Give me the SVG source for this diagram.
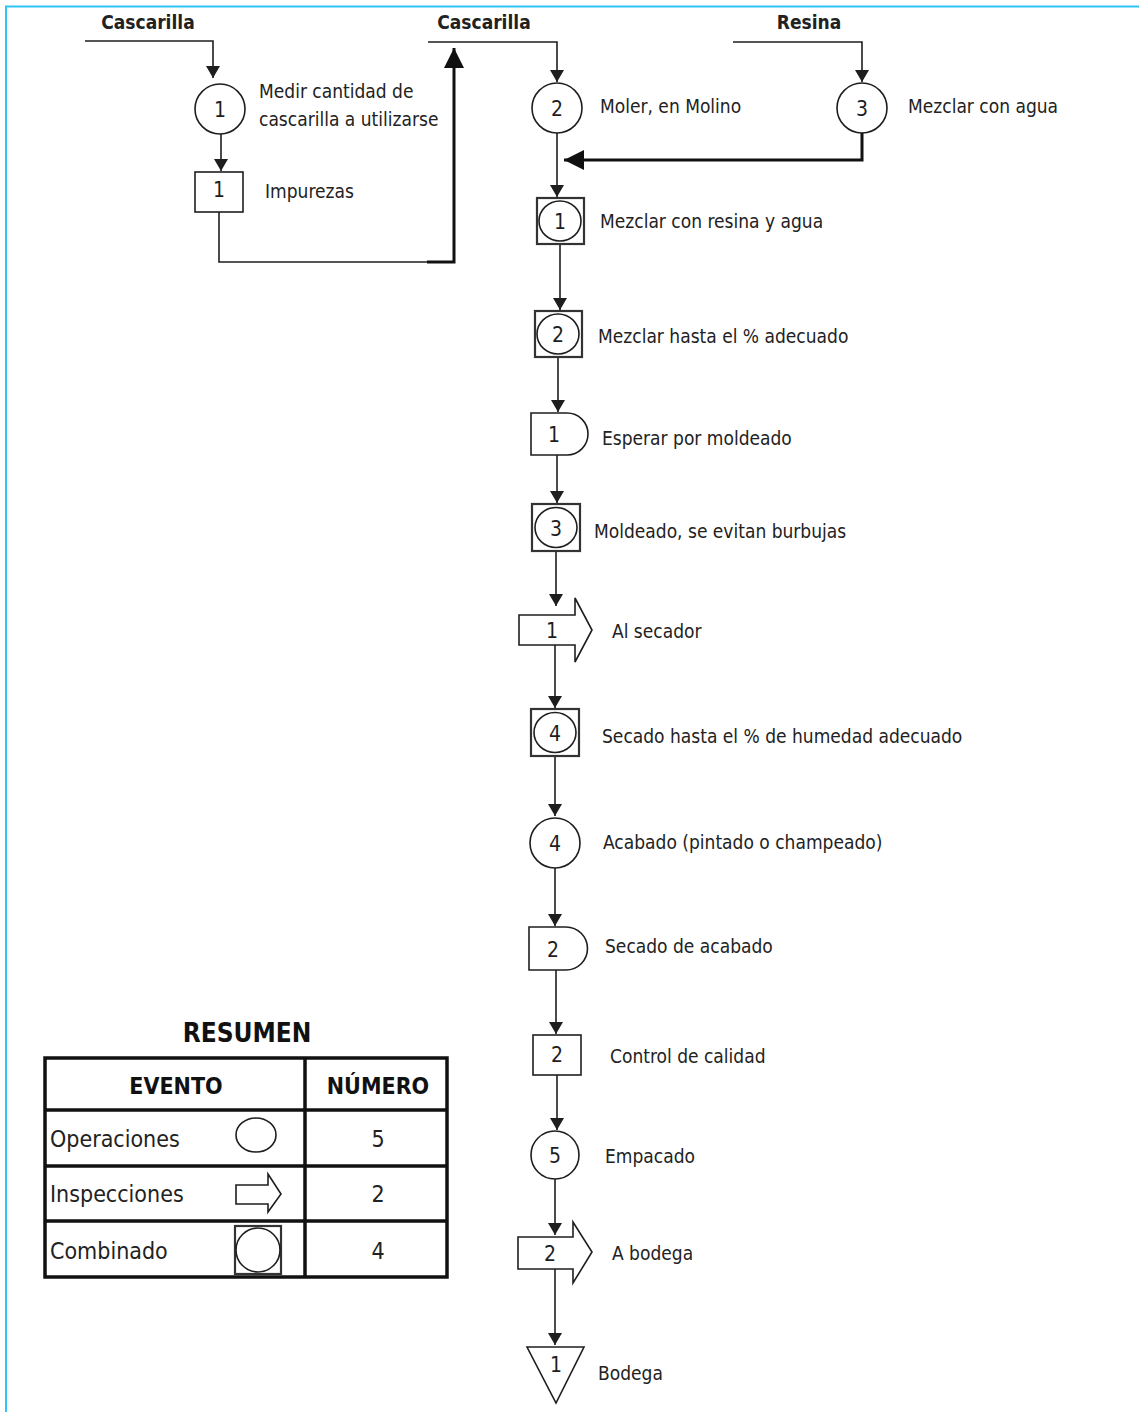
<svg xmlns="http://www.w3.org/2000/svg" width="1139" height="1412" viewBox="0 0 1139 1412">
<style>
  .bg{fill:#ffffff}
  .frame{stroke:#2ec4f4;stroke-width:2;fill:none}
  .ln{stroke:#1e1e1e;stroke-width:1.6;fill:none}
  .thk{stroke:#111;stroke-width:3;fill:none}
  .shp{stroke:#1e1e1e;stroke-width:1.6;fill:#fff}
  .cmb{stroke:#333;stroke-width:2.2;fill:#fff}
  .num{font-family:"DejaVu Sans Condensed","DejaVu Sans",sans-serif;font-stretch:condensed;font-size:21px;fill:#1e1e1e;text-anchor:middle}
  .lbl{font-family:"DejaVu Sans Condensed","DejaVu Sans",sans-serif;font-stretch:condensed;font-size:19px;fill:#222}
  .hd{font-family:"DejaVu Sans Condensed","DejaVu Sans",sans-serif;font-stretch:condensed;font-size:19px;font-weight:bold;fill:#222;text-anchor:middle}
  .tt{font-family:"DejaVu Sans Condensed","DejaVu Sans",sans-serif;font-stretch:condensed;font-size:26px;font-weight:bold;fill:#111;text-anchor:middle}
  .th{font-family:"DejaVu Sans Condensed","DejaVu Sans",sans-serif;font-stretch:condensed;font-size:23px;font-weight:bold;fill:#111;text-anchor:middle}
  .tr{font-family:"DejaVu Sans Condensed","DejaVu Sans",sans-serif;font-stretch:condensed;font-size:23px;fill:#222}
  .tn{font-family:"DejaVu Sans Condensed","DejaVu Sans",sans-serif;font-stretch:condensed;font-size:23px;fill:#222;text-anchor:middle}
  .tb{stroke:#111;stroke-width:3.5;fill:none}
</style>
<defs>
  <marker id="a" markerUnits="userSpaceOnUse" markerWidth="14" markerHeight="14" refX="12" refY="7" orient="auto">
    <path d="M0,0 L12,7 L0,14 Z" fill="#1e1e1e"/>
  </marker>
  <marker id="A" markerUnits="userSpaceOnUse" markerWidth="22" markerHeight="22" refX="20" refY="10" orient="auto">
    <path d="M0,0 L20,10 L0,20 Z" fill="#111"/>
  </marker>
</defs>
<rect class="bg" x="0" y="0" width="1139" height="1412"/>
<path class="frame" d="M6,1412 V6.5 H1139"/>

<g id="connectors">
  <path class="ln" d="M85,41 H213 V78" marker-end="url(#a)"/>
  <path class="ln" d="M221,134 V171" marker-end="url(#a)"/>
  <path class="ln" d="M219,212 V262 H430"/>
  <path class="thk" d="M427,262 H454 V48" marker-end="url(#A)"/>
  <path class="ln" d="M428,42 H557 V82" marker-end="url(#a)"/>
  <path class="ln" d="M733,42 H862 V82" marker-end="url(#a)"/>
  <path class="thk" d="M862,133 V160 H564" marker-end="url(#A)"/>
  <path class="ln" d="M557,133 V197" marker-end="url(#a)"/>
  <path class="ln" d="M560,244 V310" marker-end="url(#a)"/>
  <path class="ln" d="M558,357 V412" marker-end="url(#a)"/>
  <path class="ln" d="M557,455 V503" marker-end="url(#a)"/>
  <path class="ln" d="M556,551 V606" marker-end="url(#a)"/>
  <path class="ln" d="M555,645 V708" marker-end="url(#a)"/>
  <path class="ln" d="M555,756 V816" marker-end="url(#a)"/>
  <path class="ln" d="M555,868 V926" marker-end="url(#a)"/>
  <path class="ln" d="M556,970 V1034" marker-end="url(#a)"/>
  <path class="ln" d="M557,1075 V1130" marker-end="url(#a)"/>
  <path class="ln" d="M555,1179 V1235" marker-end="url(#a)"/>
  <path class="ln" d="M555,1269 V1345" marker-end="url(#a)"/>
</g>

<g id="in-cascarilla-1"><text class="hd" x="148" y="29">Cascarilla</text></g>
<g id="in-cascarilla-2"><text class="hd" x="484" y="29">Cascarilla</text></g>
<g id="in-resina"><text class="hd" x="809" y="29">Resina</text></g>

<g id="op1">
  <circle class="shp" cx="220" cy="109" r="25"/>
  <text class="num" x="220" y="116.5">1</text>
  <text class="lbl" x="259" y="98">Medir cantidad de</text>
  <text class="lbl" x="259" y="126">cascarilla a utilizarse</text>
</g>
<g id="insp1">
  <rect class="shp" x="195" y="172" width="48" height="40"/>
  <text class="num" x="219" y="197">1</text>
  <text class="lbl" x="265" y="198">Impurezas</text>
</g>
<g id="op2">
  <circle class="shp" cx="557" cy="108" r="25"/>
  <text class="num" x="557" y="115.5">2</text>
  <text class="lbl" x="600" y="113">Moler, en Molino</text>
</g>
<g id="op3">
  <circle class="shp" cx="862" cy="108" r="25"/>
  <text class="num" x="862" y="115.5">3</text>
  <text class="lbl" x="908" y="113">Mezclar con agua</text>
</g>
<g id="comb1">
  <rect class="cmb" x="537" y="198" width="47" height="46"/>
  <ellipse class="shp" cx="560" cy="221" rx="21" ry="20"/>
  <text class="num" x="560" y="229">1</text>
  <text class="lbl" x="600" y="228">Mezclar con resina y agua</text>
</g>
<g id="comb2">
  <rect class="cmb" x="535" y="311" width="47" height="46"/>
  <ellipse class="shp" cx="558" cy="334" rx="21" ry="20"/>
  <text class="num" x="558" y="342">2</text>
  <text class="lbl" x="598" y="343">Mezclar hasta el % adecuado</text>
</g>
<g id="delay1">
  <path class="shp" d="M531,413 H567 A21,21 0 0 1 567,455 H531 Z"/>
  <text class="num" x="554" y="442">1</text>
  <text class="lbl" x="602" y="445">Esperar por moldeado</text>
</g>
<g id="comb3">
  <rect class="cmb" x="532" y="504" width="48" height="47"/>
  <ellipse class="shp" cx="556" cy="527.5" rx="21" ry="20"/>
  <text class="num" x="556" y="536">3</text>
  <text class="lbl" x="594" y="538">Moldeado, se evitan burbujas</text>
</g>
<g id="transp1">
  <path class="shp" d="M519,615 H575 V598 L592,630 L575,662 V645 H519 Z"/>
  <text class="num" x="552" y="638">1</text>
  <text class="lbl" x="612" y="638">Al secador</text>
</g>
<g id="comb4">
  <rect class="cmb" x="531" y="709" width="48" height="47"/>
  <ellipse class="shp" cx="555" cy="732.5" rx="21" ry="20"/>
  <text class="num" x="555" y="741">4</text>
  <text class="lbl" x="602" y="743">Secado hasta el % de humedad adecuado</text>
</g>
<g id="op4">
  <circle class="shp" cx="555" cy="843" r="25"/>
  <text class="num" x="555" y="851">4</text>
  <text class="lbl" x="603" y="849">Acabado (pintado o champeado)</text>
</g>
<g id="delay2">
  <path class="shp" d="M529,927 H566 A21.5,21.5 0 0 1 566,970 H529 Z"/>
  <text class="num" x="553" y="957">2</text>
  <text class="lbl" x="605" y="953">Secado de acabado</text>
</g>
<g id="insp2">
  <rect class="shp" x="533" y="1035" width="48" height="40"/>
  <text class="num" x="557" y="1062">2</text>
  <text class="lbl" x="610" y="1063">Control de calidad</text>
</g>
<g id="op5">
  <circle class="shp" cx="555" cy="1155" r="24"/>
  <text class="num" x="555" y="1163">5</text>
  <text class="lbl" x="605" y="1163">Empacado</text>
</g>
<g id="transp2">
  <path class="shp" d="M518,1237 H573 V1222 L592,1252 L573,1283 V1269 H518 Z"/>
  <text class="num" x="550" y="1261">2</text>
  <text class="lbl" x="612" y="1260">A bodega</text>
</g>
<g id="storage1">
  <path class="shp" d="M527,1347 H584 L556,1403 Z"/>
  <text class="num" x="556" y="1372">1</text>
  <text class="lbl" x="598" y="1380">Bodega</text>
</g>

<g id="resumen">
  <text class="tt" x="247" y="1042">RESUMEN</text>
  <rect class="tb" x="45" y="1058" width="402" height="219"/>
  <path class="tb" d="M45,1110 H447 M45,1166 H447 M45,1221 H447 M305,1058 V1277"/>
  <text class="th" x="176" y="1094">EVENTO</text>
  <text class="th" x="378" y="1094">NÚMERO</text>
  <text class="tr" x="50" y="1147">Operaciones</text>
  <ellipse class="shp" cx="256" cy="1135" rx="20" ry="17"/>
  <text class="tn" x="378" y="1147">5</text>
  <text class="tr" x="50" y="1202">Inspecciones</text>
  <path class="shp" d="M236,1185 H268 V1174 L281,1194 L268,1212 V1204 H236 Z"/>
  <text class="tn" x="378" y="1202">2</text>
  <text class="tr" x="50" y="1259">Combinado</text>
  <rect class="cmb" x="235" y="1226" width="46" height="48"/>
  <ellipse class="shp" cx="258" cy="1250" rx="22" ry="22"/>
  <text class="tn" x="378" y="1259">4</text>
</g>
</svg>
